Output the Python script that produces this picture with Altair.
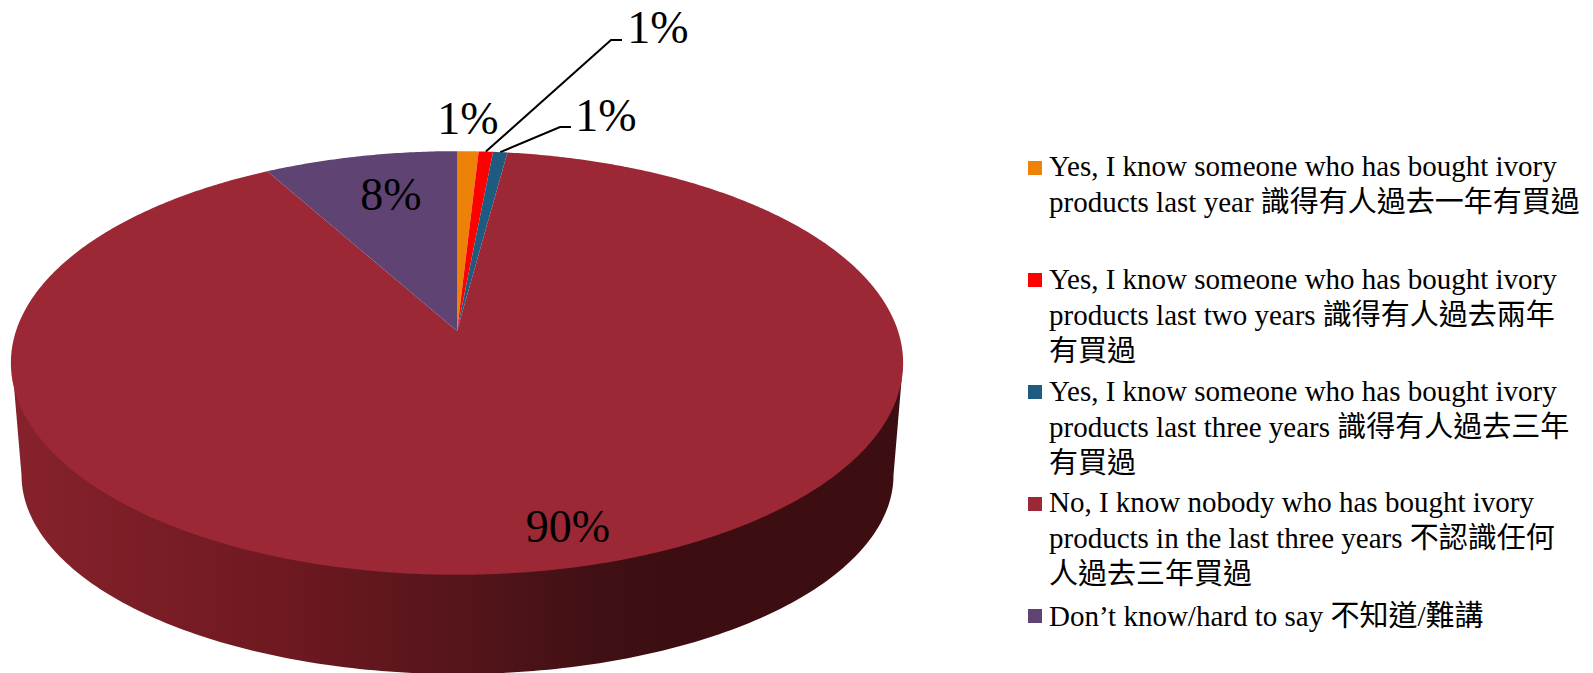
import math
import altair as alt
import pandas as pd

# Survey answers and their shares of respondents (percent)
answers = [
    "Yes, I know someone who has bought ivory\nproducts last year 識得有人過去一年有買過",
    "Yes, I know someone who has bought ivory\nproducts last two years 識得有人過去兩年\n有買過",
    "Yes, I know someone who has bought ivory\nproducts last three years 識得有人過去三年\n有買過",
    "No, I know nobody who has bought ivory\nproducts in the last three years 不認識任何\n人過去三年買過",
    "Don’t know/hard to say 不知道/難講",
]
shares = [0.9, 0.6, 0.6, 89.8, 8.1]
slice_colors = ["#EE8209", "#FF0000", "#1F5A80", "#9C2735", "#5F4473"]

FONT = "Liberation Serif, Noto Sans CJK TC"
W, H = 1593, 673

# Tilted disc: a circle seen in perspective, so the hub sits above the ellipse centre
HUB_X, HUB_Y = 457.0, 331.0
SPREAD_X, SPREAD_Y, TILT = 441.0, 207.0, 0.151


def rim(angle):
    """Pixel position of a rim point; angle runs clockwise from twelve o'clock."""
    sx, sy = math.sin(angle), math.cos(angle)
    d = 1 + TILT * sy
    return HUB_X + SPREAD_X * sx / d, HUB_Y - SPREAD_Y * sy / d


total = sum(shares)
edges = [0.0]
for s in shares:
    edges.append(edges[-1] + s / total * 2 * math.pi)

features = []
for i, name in enumerate(answers):
    a0, a1 = edges[i], edges[i + 1]
    steps = max(2, int((a1 - a0) / math.radians(0.5)))
    ring = [[HUB_X, HUB_Y]]
    ring += [list(rim(a0 + (a1 - a0) * k / steps)) for k in range(steps + 1)]
    ring.append([HUB_X, HUB_Y])
    features.append({
        "type": "Feature",
        "properties": {"answer": name},
        "geometry": {"type": "Polygon", "coordinates": [ring]},
    })

# Side wall: lower rim of the disc joined to the outer points of the top face
WALL_X, WALL_Y, WALL_RX, WALL_RY = 457.5, 475.0, 436.0, 199.0
wall_ring = [[12.0, 363.0]]
for k in range(181):
    t = math.pi * k / 180
    wall_ring.append([WALL_X - WALL_RX * math.cos(t), WALL_Y + WALL_RY * math.sin(t)])
wall_ring += [[903.0, 363.0], [12.0, 363.0]]
wall_feature = {
    "type": "Feature",
    "properties": {},
    "geometry": {"type": "Polygon", "coordinates": [wall_ring]},
}

mid_angles = [(edges[i] + edges[i + 1]) / 2 for i in range(len(shares))]

# Percentage label placement
label_x = [468, 658, 606, 568, 391]
label_y = [134, 43, 131, 542, 210]
labels = pd.DataFrame({"value": shares, "lon": label_x, "lat": label_y})

# Leader lines for the two labels pulled away from their thin slices
leaders = []
for i, elbow, end in [(1, (611, 40), (622, 40)), (2, (560, 127), (571, 127))]:
    leaders.append({
        "type": "Feature",
        "properties": {},
        "geometry": {"type": "LineString",
                     "coordinates": [list(rim(mid_angles[i])), list(elbow), list(end)]},
    })

# Key on the right
key_y = [168, 280, 392, 504, 616]
key_text_y = [176, 289, 401, 512, 626]
key = pd.DataFrame({
    "answer": answers,
    "y": key_y,
    "text_y": key_text_y,
    "sq_x": [1035] * 5,
    "text_x": [1049] * 5,
})

projection = dict(type="identity", scale=1, translate=[0, 0])
color = alt.Color("answer:N", scale=alt.Scale(domain=answers, range=slice_colors), legend=None)

wall = alt.Chart(alt.Data(values=[wall_feature])).mark_geoshape(
    fill=alt.Gradient(
        gradient="linear", x1=0, x2=1, y1=0, y2=0,
        stops=[
            alt.GradientStop(offset=0.0, color="#87222C"),
            alt.GradientStop(offset=0.32, color="#6D1820"),
            alt.GradientStop(offset=0.5, color="#55151B"),
            alt.GradientStop(offset=0.66, color="#401014"),
            alt.GradientStop(offset=0.74, color="#3C0E11"),
            alt.GradientStop(offset=1.0, color="#3C0E11"),
        ],
    ),
    strokeWidth=0,
).project(**projection)

top = alt.Chart(alt.Data(values=features)).mark_geoshape(strokeWidth=0).encode(
    fill=alt.Color("properties.answer:N",
                   scale=alt.Scale(domain=answers, range=slice_colors), legend=None)
).project(**projection)

leader_lines = alt.Chart(alt.Data(values=leaders)).mark_geoshape(
    filled=False, stroke="black", strokeWidth=2
).project(**projection)

pct = alt.Chart(labels).transform_calculate(
    label="format(datum.value, '.0f') + '%'"
).mark_text(font=FONT, fontSize=46, color="black", baseline="alphabetic", align="center").encode(
    longitude="lon:Q", latitude="lat:Q", text="label:N"
).project(**projection)

squares = alt.Chart(key).mark_point(shape="square", filled=True, size=196, opacity=1).encode(
    longitude="sq_x:Q", latitude="y:Q", color=color
).project(**projection)

key_text = alt.Chart(key).mark_text(
    font=FONT, fontSize=29, color="black", align="left", baseline="alphabetic",
    lineBreak="\n", lineHeight=36,
).encode(longitude="text_x:Q", latitude="text_y:Q", text="answer:N").project(**projection)

chart = alt.layer(wall, top, leader_lines, pct, squares, key_text).properties(
    width=W, height=H, padding=0, autosize="none", background="white"
).configure_view(stroke=None)

chart.save("out.html", embed_options={"renderer": "svg", "actions": False})
